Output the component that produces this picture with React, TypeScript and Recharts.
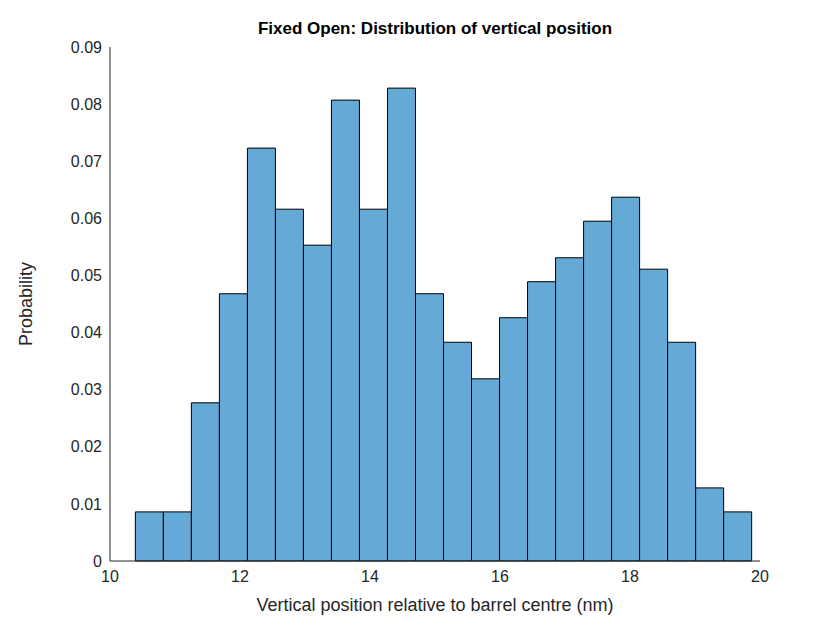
import { Bar, ComposedChart, XAxis, YAxis } from "recharts";

const binStart = 10.39;
const binWidth = 0.431;
const probabilities = [
  0.0086, 0.0086, 0.0277, 0.0468, 0.0723, 0.0616, 0.0553, 0.0807, 0.0616, 0.0828, 0.0468,
  0.0383, 0.0319, 0.0426, 0.0489, 0.0531, 0.0595, 0.0637, 0.0511, 0.0383, 0.0128, 0.0086,
];
const xTicks = [10, 12, 14, 16, 18, 20];
const yTicks = [0, 0.01, 0.02, 0.03, 0.04, 0.05, 0.06, 0.07, 0.08, 0.09];

const data = probabilities.map((p, i) => ({ x: binStart + binWidth * (i + 0.5), p }));

const font = "'Liberation Sans', Arial, sans-serif";

export default function App() {
  return (
    <div style={{ position: "absolute", left: 0, top: 0, width: 840, height: 630, background: "#fff", fontFamily: font }}>
      <div style={{ position: "absolute", left: 110, width: 650, top: 19, textAlign: "center", fontWeight: "bold", fontSize: 17, color: "#000" }}>
        Fixed Open: Distribution of vertical position
      </div>
      <ComposedChart
        width={840}
        height={630}
        data={data}
        margin={{ top: 47, right: 80, bottom: 19, left: 50 }}
        barCategoryGap={0}
        barGap={0}
      >
        <XAxis
          dataKey="x"
          type="number"
          domain={[10, 20]}
          ticks={xTicks}
          height={50}
          stroke="#262626"
          tickSize={0}
          tickMargin={10}
          tick={{ fontSize: 16, fill: "#262626", fontFamily: font }}
          label={{ value: "Vertical position relative to barrel centre (nm)", position: "insideBottom", offset: 0, fontSize: 18, fill: "#262626", fontFamily: font }}
        />
        <XAxis xAxisId="top" orientation="top" type="number" domain={[10, 20]} height={0} tick={false} tickLine={false} stroke="#262626" />
        <YAxis
          type="number"
          domain={[0, 0.09]}
          ticks={yTicks}
          width={60}
          stroke="#262626"
          tickSize={0}
          tickMargin={8}
          tickFormatter={(v: number) => (v === 0 ? "0" : v.toFixed(2))}
          tick={{ fontSize: 16, fill: "#262626", fontFamily: font }}
          label={{ value: "Probability", angle: -90, position: "insideLeft", offset: -24, fontSize: 18, fill: "#262626", fontFamily: font, style: { textAnchor: "middle" } }}
        />
        <YAxis yAxisId="right" orientation="right" domain={[0, 0.09]} width={0} tick={false} tickLine={false} stroke="#262626" />
        <Bar dataKey="p" fill="#65aad7" stroke="#000" strokeWidth={1} isAnimationActive={false} />
      </ComposedChart>
    </div>
  );
}
